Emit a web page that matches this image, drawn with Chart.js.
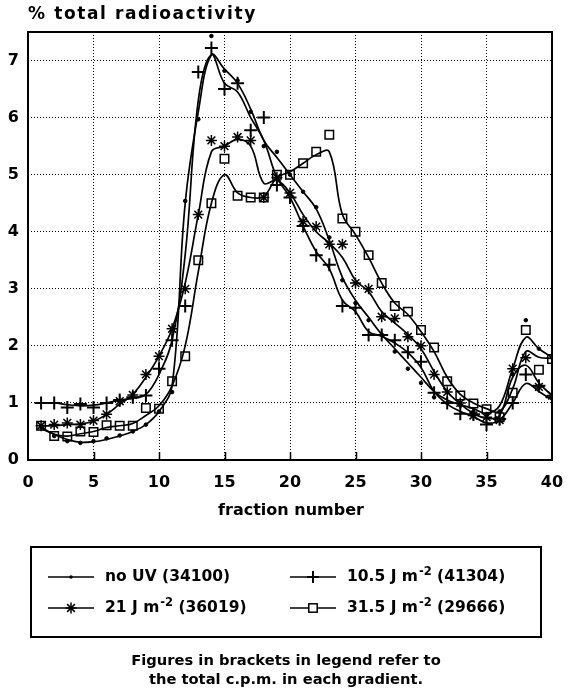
<!DOCTYPE html>
<html>
<head>
<meta charset="utf-8">
<script src="https://cdn.jsdelivr.net/npm/chart.js@4.4.1/dist/chart.umd.min.js"></script>
<style>
html, body { margin: 0; padding: 0; background: #fff; }
</style>
</head>
<body>
<canvas id="myChart" width="568" height="693"></canvas>
<script>
var fractions = [1, 2, 3, 4, 5, 6, 7, 8, 9, 10, 11, 12, 13, 14, 15, 16, 17, 18, 19, 20,
    21, 22, 23, 24, 25, 26, 27, 28, 29, 30, 31, 32, 33, 34, 35, 36, 37, 38, 39, 40];

// measured points (markers)
var noUV = [0.58, 0.42, 0.33, 0.30, 0.33, 0.38, 0.43, 0.50, 0.62, 0.85,
    1.19, 4.54, 5.97, 7.43, 6.82, 6.65, 6.10, 5.50, 5.40, 5.00,
    4.70, 4.43, 3.90, 3.15, 2.75, 2.45, 2.20, 1.90, 1.60, 1.35,
    1.10, 1.00, 0.95, 0.85, 0.80, 0.85, 1.50, 2.45, 1.95, 1.80];
var uv105 = [1.00, 1.00, 0.92, 0.98, 0.92, 1.00, 1.05, 1.10, 1.13, 1.60,
    2.10, 2.70, 6.80, 7.22, 6.50, 6.60, 5.78, 6.00, 4.82, 4.60,
    4.10, 3.59, 3.42, 2.70, 2.67, 2.19, 2.19, 2.10, 1.89, 1.72,
    1.18, 1.00, 0.81, 0.80, 0.62, 0.72, 1.00, 1.50, 1.30, 1.10];
var uv21 = [0.60, 0.62, 0.65, 0.62, 0.69, 0.80, 1.03, 1.14, 1.50, 1.82,
    2.30, 3.00, 4.30, 5.60, 5.50, 5.66, 5.60, 4.60, 4.95, 4.68,
    4.18, 4.09, 3.78, 3.78, 3.10, 3.00, 2.51, 2.48, 2.16, 2.00,
    1.50, 1.19, 1.00, 0.78, 0.75, 0.70, 1.60, 1.79, 1.28, 1.13];
var uv315 = [0.60, 0.42, 0.41, 0.50, 0.49, 0.61, 0.60, 0.60, 0.91, 0.90,
    1.38, 1.82, 3.50, 4.50, 5.28, 4.63, 4.60, 4.60, 5.00, 5.00,
    5.20, 5.40, 5.70, 4.23, 4.00, 3.59, 3.10, 2.70, 2.60, 2.28,
    1.97, 1.38, 1.13, 0.99, 0.89, 0.75, 1.18, 2.28, 1.58, 1.77];

// smoothed curves as drawn in the figure, read at each fraction
var noUVFit = [0.55, 0.45, 0.36, 0.31, 0.32, 0.36, 0.42, 0.50, 0.62, 0.85,
    1.30, 4.50, 6.10, 7.10, 6.85, 6.60, 6.15, 5.60, 5.30, 5.00,
    4.70, 4.40, 3.85, 3.20, 2.80, 2.50, 2.20, 1.95, 1.70, 1.45,
    1.20, 1.05, 0.97, 0.90, 0.82, 0.95, 1.60, 2.15, 1.95, 1.80];
var uv105Fit = [1.00, 1.00, 0.97, 0.95, 0.96, 1.00, 1.05, 1.08, 1.15, 1.50,
    2.10, 3.60, 6.30, 7.10, 6.60, 6.45, 6.00, 5.60, 4.95, 4.60,
    4.10, 3.65, 3.35, 2.80, 2.60, 2.25, 2.17, 2.05, 1.88, 1.62,
    1.20, 0.98, 0.85, 0.76, 0.65, 0.70, 1.00, 1.34, 1.20, 1.05];
var uv21Fit = [0.60, 0.60, 0.62, 0.63, 0.68, 0.80, 0.98, 1.15, 1.45, 1.82,
    2.30, 3.10, 4.30, 5.40, 5.50, 5.62, 5.50, 4.85, 4.90, 4.68,
    4.30, 4.00, 3.80, 3.55, 3.15, 2.95, 2.60, 2.40, 2.20, 1.95,
    1.55, 1.20, 0.98, 0.82, 0.73, 0.78, 1.45, 1.66, 1.35, 1.13];
var uv315Fit = [0.58, 0.45, 0.42, 0.46, 0.50, 0.57, 0.60, 0.64, 0.78, 0.95,
    1.30, 2.00, 3.30, 4.50, 5.00, 4.68, 4.60, 4.62, 4.95, 5.05,
    5.20, 5.35, 5.40, 4.30, 3.95, 3.55, 3.10, 2.75, 2.55, 2.25,
    1.90, 1.45, 1.15, 1.00, 0.90, 0.85, 1.25, 1.90, 1.80, 1.78];

var seriesLabels = ['no UV (34100)', '10.5 J m\u207B\u00B2 (41304)', '21 J m\u207B\u00B2 (36019)', '31.5 J m\u207B\u00B2 (29666)'];
var xTicks = [0, 5, 10, 15, 20, 25, 30, 35, 40];
var yTicks = [0, 1, 2, 3, 4, 5, 6, 7];
var yTitle = '% total radioactivity';
var xTitle = 'fraction number';
var footnote = ['Figures in brackets in legend refer to', 'the total c.p.m. in each gradient.'];

var FONT = '"DejaVu Sans", sans-serif';
var styles = ['circle', 'cross', 'star', 'rect'];

function pts(values) {
    return fractions.map(function (f, i) { return { x: f, y: values[i] }; });
}

function curve(label, values) {
    return {
        label: label,
        data: pts(values),
        borderColor: '#000',
        borderWidth: 1.7,
        tension: 0.4,
        pointRadius: 0,
        fill: false
    };
}

function points(label, values, style, radius, fill, width) {
    return {
        label: label,
        data: pts(values),
        showLine: false,
        pointStyle: style,
        pointRadius: radius,
        pointBorderColor: '#000',
        pointBackgroundColor: fill,
        pointBorderWidth: width
    };
}

// markers for the legend, same look as the chart points
function marker(ctx, style, x, y) {
    ctx.save();
    ctx.strokeStyle = '#000';
    ctx.fillStyle = '#000';
    if (style === 'circle') {
        ctx.beginPath(); ctx.arc(x, y, 1.8, 0, Math.PI * 2); ctx.fill();
    } else if (style === 'cross') {
        ctx.lineWidth = 2;
        ctx.beginPath(); ctx.moveTo(x - 6, y); ctx.lineTo(x + 6, y);
        ctx.moveTo(x, y - 6); ctx.lineTo(x, y + 6); ctx.stroke();
    } else if (style === 'star') {
        ctx.lineWidth = 1.5;
        var r = 5.5, d = r * Math.SQRT1_2;
        ctx.beginPath();
        ctx.moveTo(x - r, y); ctx.lineTo(x + r, y);
        ctx.moveTo(x, y - r); ctx.lineTo(x, y + r);
        ctx.moveTo(x - d, y - d); ctx.lineTo(x + d, y + d);
        ctx.moveTo(x - d, y + d); ctx.lineTo(x + d, y - d);
        ctx.stroke();
    } else {
        ctx.lineWidth = 1.5;
        ctx.fillStyle = '#fff';
        ctx.fillRect(x - 4.2, y - 4.2, 8.4, 8.4);
        ctx.strokeRect(x - 4.2, y - 4.2, 8.4, 8.4);
    }
    ctx.restore();
}

// legend text with a raised "-2"
function labelText(ctx, text, x, y) {
    var parts = text.split('\u207B\u00B2');
    ctx.font = 'bold 15.5px ' + FONT;
    ctx.fillText(parts[0], x, y);
    if (parts.length < 2) return;
    x += ctx.measureText(parts[0]).width + 1;
    ctx.font = 'bold 11.5px ' + FONT;
    ctx.fillText('-2', x, y - 5);
    x += ctx.measureText('-2').width;
    ctx.font = 'bold 15.5px ' + FONT;
    ctx.fillText(parts[1], x, y);
}

var decor = {
    id: 'decor',
    afterDraw: function (chart) {
        var ctx = chart.ctx, a = chart.chartArea, xs = chart.scales.x;
        ctx.save();
        ctx.strokeStyle = '#000';
        ctx.fillStyle = '#000';

        // frame
        ctx.lineWidth = 2;
        ctx.strokeRect(a.left, a.top, a.right - a.left, a.bottom - a.top);

        // short solid ticks on the bottom axis
        ctx.lineWidth = 1.5;
        xTicks.slice(1, -1).forEach(function (v) {
            var px = Math.round(xs.getPixelForValue(v)) + 0.5;
            ctx.beginPath(); ctx.moveTo(px, a.bottom); ctx.lineTo(px, a.bottom - 8); ctx.stroke();
        });

        ctx.textBaseline = 'middle';
        ctx.textAlign = 'left';
        ctx.font = 'bold 17px ' + FONT;
        ctx.letterSpacing = '1.6px';
        ctx.fillText(yTitle, 28, 15);
        ctx.letterSpacing = '0px';
        ctx.textAlign = 'center';
        ctx.font = 'bold 16px ' + FONT;
        ctx.fillText(xTitle, 291, 511);

        // legend box
        ctx.lineWidth = 2;
        ctx.strokeRect(31, 547, 510, 90);
        var spots = [[48, 577], [290, 577], [48, 608], [290, 608]];
        ctx.textAlign = 'left';
        seriesLabels.forEach(function (lab, i) {
            var sx = spots[i][0], sy = spots[i][1];
            ctx.lineWidth = 1.6;
            ctx.beginPath(); ctx.moveTo(sx, sy); ctx.lineTo(sx + 46, sy); ctx.stroke();
            marker(ctx, styles[i], sx + 23, sy);
            labelText(ctx, lab, sx + 57, sy);
        });

        ctx.textAlign = 'center';
        ctx.font = 'bold 14.7px ' + FONT;
        ctx.fillText(footnote[0], 286, 661);
        ctx.fillText(footnote[1], 286, 680);
        ctx.restore();
    }
};

var ctx = document.getElementById('myChart').getContext('2d');
var myChart = new Chart(ctx, {
    type: 'line',
    data: {
        datasets: [
            curve(seriesLabels[0], noUVFit),
            curve(seriesLabels[1], uv105Fit),
            curve(seriesLabels[2], uv21Fit),
            curve(seriesLabels[3], uv315Fit),
            points(seriesLabels[0], noUV, 'circle', 1.8, '#000', 1),
            points(seriesLabels[1], uv105, 'cross', 6.5, '#000', 2),
            points(seriesLabels[2], uv21, 'star', 5.5, '#000', 1.5),
            points(seriesLabels[3], uv315, 'rect', 6, '#fff', 1.5)
        ]
    },
    options: {
        responsive: false,
        animation: false,
        devicePixelRatio: 1,
        layout: { padding: { left: 0, top: 32, right: 16, bottom: 173 } },
        plugins: {
            legend: { display: false },
            tooltip: { enabled: false }
        },
        scales: {
            x: {
                type: 'linear',
                min: 0,
                max: 40,
                afterBuildTicks: function (scale) {
                    scale.ticks = xTicks.map(function (v) { return { value: v }; });
                },
                afterFit: function (scale) {
                    scale.height = 60;
                    scale.paddingLeft = 0;
                    scale.paddingRight = 0;
                },
                grid: { color: '#000', lineWidth: 1, drawTicks: false },
                border: { display: false, dash: [1, 2] },
                ticks: {
                    color: '#000',
                    padding: 13,
                    maxRotation: 0,
                    font: { family: FONT, size: 16, weight: 'bold' }
                }
            },
            y: {
                min: 0,
                max: 7.5,
                afterBuildTicks: function (scale) {
                    scale.ticks = yTicks.map(function (v) { return { value: v }; });
                },
                afterFit: function (scale) { scale.width = 28; },
                grid: { color: '#000', lineWidth: 1, drawTicks: false },
                border: { display: false, dash: [1, 2] },
                ticks: {
                    color: '#000',
                    padding: 9,
                    font: { family: FONT, size: 16, weight: 'bold' }
                }
            }
        }
    },
    plugins: [decor]
});
</script>
</body>
</html>
